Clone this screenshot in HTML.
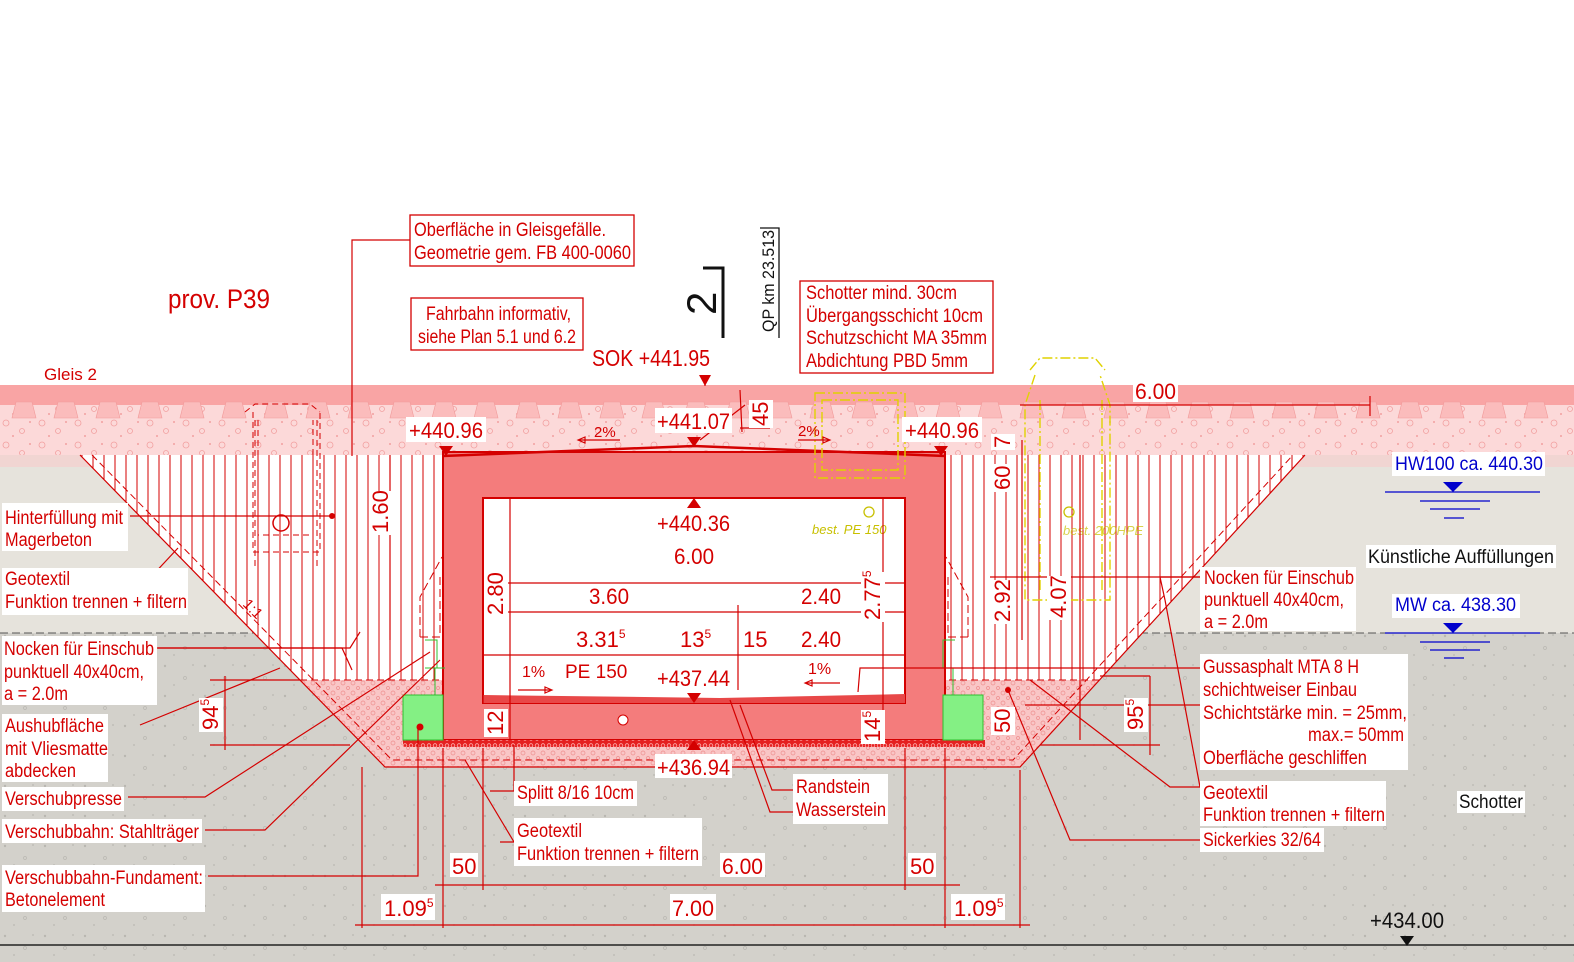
<!DOCTYPE html>
<html><head><meta charset="utf-8"><style>
html,body{margin:0;padding:0;background:#fff}
svg{display:block}
text{font-family:"Liberation Sans Narrow","Liberation Sans",sans-serif}
.r{fill:#d40000}
.lb{fill:#fff}
.bx{fill:#fff;stroke:#d40000;stroke-width:1.3}
.ln{stroke:#d40000;stroke-width:1.2;fill:none}
.tk{stroke:#d40000;stroke-width:1.2}
</style></head><body>
<svg width="1574" height="962" viewBox="0 0 1574 962" xmlns="http://www.w3.org/2000/svg">
<defs>
<pattern id="ball" width="36" height="22" patternUnits="userSpaceOnUse">
<rect width="36" height="22" fill="#fcd9d9"/>
<circle cx="6" cy="5" r="3" fill="none" stroke="#f2a0a0" stroke-width="0.8"/>
<circle cx="22" cy="13" r="2.5" fill="none" stroke="#f2a0a0" stroke-width="0.8"/>
<circle cx="30" cy="4" r="1" fill="#f2a0a0"/>
<circle cx="13" cy="18" r="1" fill="#f2a0a0"/>
</pattern>
<pattern id="pinkgr" width="10" height="10" patternUnits="userSpaceOnUse">
<rect width="10" height="10" fill="#f9c6c6"/>
<circle cx="3" cy="3" r="2" fill="none" stroke="#ee8d8d" stroke-width="0.7"/>
<circle cx="8" cy="8" r="1.5" fill="none" stroke="#ee8d8d" stroke-width="0.7"/>
</pattern>
<pattern id="gnd" width="40" height="30" patternUnits="userSpaceOnUse">
<rect width="40" height="30" fill="#d3d1cb"/>
<circle cx="5" cy="6" r="1.2" fill="#b9b7b1"/>
<circle cx="25" cy="18" r="1.5" fill="none" stroke="#b9b7b1" stroke-width="0.7"/>
<circle cx="33" cy="5" r="0.9" fill="#b9b7b1"/>
<circle cx="14" cy="25" r="0.9" fill="#b9b7b1"/>
</pattern>
<pattern id="hatch" width="11" height="20" patternUnits="userSpaceOnUse">
<rect width="11" height="20" fill="#fff"/>
<line x1="5" y1="0" x2="5" y2="20" stroke="#d40000" stroke-width="1"/>
</pattern>
<pattern id="strip" width="6" height="7" patternUnits="userSpaceOnUse">
<rect width="6" height="7" fill="#e52020"/>
<circle cx="3" cy="3.5" r="1.8" fill="none" stroke="#ffb0b0" stroke-width="0.8"/>
</pattern>
</defs>

<rect x="0" y="455" width="1574" height="178" fill="#e6e3dc"/>
<rect x="0" y="633" width="1574" height="329" fill="url(#gnd)"/>
<line x1="0" y1="633" x2="1574" y2="633" stroke="#555" stroke-width="1" stroke-dasharray="8 4"/>
<line x1="0" y1="945" x2="1574" y2="945" stroke="#222" stroke-width="1.5"/>

<rect x="0" y="385" width="1574" height="20" fill="#f9a4a4"/>
<rect x="0" y="405" width="1574" height="50" fill="url(#ball)"/>
<rect x="0" y="455" width="1574" height="12" fill="#f8cccc" opacity="0.6"/>
<g fill="#fbbcbc" stroke="#f19a9a" stroke-width="0.6">
<path d="M12 418 l4-16 h16 l4 16z M54 418 l4-16 h16 l4 16z M96 418 l4-16 h16 l4 16z M138 418 l4-16 h16 l4 16z M180 418 l4-16 h16 l4 16z M222 418 l4-16 h16 l4 16z M264 418 l4-16 h16 l4 16z M306 418 l4-16 h16 l4 16z M348 418 l4-16 h16 l4 16z M390 418 l4-16 h16 l4 16z M432 418 l4-16 h16 l4 16z M474 418 l4-16 h16 l4 16z M516 418 l4-16 h16 l4 16z M558 418 l4-16 h16 l4 16z M600 418 l4-16 h16 l4 16z M642 418 l4-16 h16 l4 16z M684 418 l4-16 h16 l4 16z M726 418 l4-16 h16 l4 16z M768 418 l4-16 h16 l4 16z M810 418 l4-16 h16 l4 16z M852 418 l4-16 h16 l4 16z M894 418 l4-16 h16 l4 16z M936 418 l4-16 h16 l4 16z M978 418 l4-16 h16 l4 16z M1020 418 l4-16 h16 l4 16z M1062 418 l4-16 h16 l4 16z M1104 418 l4-16 h16 l4 16z M1146 418 l4-16 h16 l4 16z M1188 418 l4-16 h16 l4 16z M1230 418 l4-16 h16 l4 16z M1272 418 l4-16 h16 l4 16z M1314 418 l4-16 h16 l4 16z M1356 418 l4-16 h16 l4 16z M1398 418 l4-16 h16 l4 16z M1440 418 l4-16 h16 l4 16z M1482 418 l4-16 h16 l4 16z M1524 418 l4-16 h16 l4 16z"/>
</g>

<polygon points="80,455 1305,455 1099,680 300,680" fill="url(#hatch)"/>
<polygon points="300,680 1099,680 1020,767 385,767" fill="url(#pinkgr)"/>
<polyline points="80,455 385,767 1020,767 1305,455" class="ln"/>
<polyline points="92,455 392,760 1013,760 1293,455" fill="none" stroke="#d40000" stroke-width="1" stroke-dasharray="7 4"/>
<line x1="300" y1="680" x2="1099" y2="680" stroke="#d40000" stroke-dasharray="7 4"/>

<rect x="443" y="452" width="502" height="288" fill="#f47c7c" stroke="#d40000" stroke-width="2"/>
<rect x="483" y="498" width="422" height="205" fill="#fff" stroke="#d40000" stroke-width="2"/>
<polygon points="483,695 720,698 905,694 905,703 483,703" fill="#e84848"/>
<polyline points="443,456 694,446 945,456" fill="none" stroke="#d40000" stroke-width="2.5"/>
<rect x="403" y="740" width="582" height="7" fill="url(#strip)"/>
<rect x="403" y="695" width="40" height="45" fill="#84f084" stroke="#30c030"/>
<rect x="943" y="695" width="40" height="45" fill="#84f084" stroke="#30c030"/>
<circle cx="420" cy="727" r="3.5" fill="#d40000"/>
<circle cx="623" cy="720" r="5" fill="#fff" stroke="#d40000"/>
<circle cx="1008" cy="690" r="3" fill="#d40000"/>
<circle cx="332" cy="516" r="3" fill="#d40000"/>
<g stroke="#30c030" fill="none"><path d="M425 668h20 M435 668v27 M425 640h12 v28"/><path d="M943 668h20 M953 668v27 M955 640h-12 v28"/></g>
<path d="M420 637h20v-60 M420 637v-40 l22 -40" fill="none" stroke="#d40000" stroke-dasharray="8 4"/>
<path d="M968 637h-20v-60 M968 637v-40 l-22 -40" fill="none" stroke="#d40000" stroke-dasharray="8 4"/>

<path d="M245 412 l10-8 h55 l10 8 M253 412v140 h67 v-140 M255 420v148 M317 420v148 M258 420 v115 h55 v-115" fill="none" stroke="#d40000" stroke-dasharray="6 4"/>
<circle cx="281" cy="523" r="8" fill="none" stroke="#d40000" stroke-width="1.5"/>

<g fill="none" stroke="#e0d200" stroke-dasharray="10 3 2 3" stroke-width="1.4">
<rect x="815" y="393" width="90" height="85"/><rect x="822" y="400" width="76" height="70"/>
<path d="M1030 370 l10-12 h55 l10 12 M1035 375 l-10 30 v195 h85 v-195 l-10 -30 M1040 400 v190 M1102 400 v190"/>
</g>
<circle cx="869" cy="512" r="5" fill="none" stroke="#c8c000" stroke-width="1.3"/>
<circle cx="1069" cy="512" r="5" fill="none" stroke="#c8c000" stroke-width="1.3"/>
<text x="812" y="534" font-size="13" font-style="italic" fill="#c8c000">best. PE 150</text>
<text x="1063" y="535" font-size="13" font-style="italic" fill="#c8c000" opacity="0.7">best. 200HPE</text>

<g class="ln">
<path d="M352 456 V240 H410"/>
<path d="M705 380 V386"/>
<path d="M75 578 H150 L178 548"/>
<path d="M130 516 H332"/>
<path d="M158 648 H350 L360 632"/>
<path d="M140 725 L280 668"/>
<path d="M128 797 H205 L430 652"/>
<path d="M205 830 H265 L440 660"/>
<path d="M208 876 H418 V727"/>
<path d="M155 648 H342 L352 670"/>
<path d="M490 791 H514 V745"/>
<path d="M500 842 H514 L465 760"/>
<path d="M793 790 H772 L740 705"/>
<path d="M793 812 H770 L730 700"/>
<path d="M1200 668 H860 L858 692"/>
<path d="M1200 577 H1160 L1165 600"/>
<path d="M1200 787 L1170 787 L1030 680"/>
<path d="M1200 840 H1070 L1008 690"/>
<path d="M1200 787 L1165 600"/>
<path d="M1025 705 H1200"/>
<path d="M990 577 H1200"/>
<path d="M362 767 V928 M443 748 V928 M483 748 V890 M905 748 V890 M945 748 V928 M1020 770 V928"/>
<path d="M355 925 H1030 M435 885 H960"/>
<path d="M483 498 L483 703 M510 498 V740 M883 498 V740"/>
<path d="M483 583 H905 M483 612 H905 M483 655 H905"/>
<path d="M738 605 V690 M390 455 V640 M1370 396 V416 M1020 405 H1370 M1022 440 V640 M1080 455 V740"/>
<path d="M225 676 V750 M210 680 H300 M210 745 H350 M1150 676 V755 M1100 676 H1150 M1040 745 H1160"/>
<path d="M740 390 L742 432 M700 440 L745 405 M740 428 H770"/>
</g>
<polygon points="699,375 711,375 705,386" fill="#d40000"/>
<polygon points="439,446 453,446 446,456" fill="#d40000"/>
<polygon points="934,446 948,446 941,456" fill="#d40000"/>
<polygon points="687,437 701,437 694,447" fill="#d40000"/>
<polygon points="687,508 701,508 694,498" fill="#d40000"/>
<polygon points="687,693 701,693 694,703" fill="#d40000"/>
<polygon points="687,750 701,750 694,740" fill="#d40000"/>

<text x="168" y="308" font-size="27" class="r" textLength="102" lengthAdjust="spacingAndGlyphs">prov. P39</text>
<text x="44" y="380" font-size="17" class="r">Gleis 2</text>
<rect x="410" y="215" width="224" height="51" class="bx"/>
<text x="414" y="236" font-size="19" class="r" textLength="192" lengthAdjust="spacingAndGlyphs">Oberfläche in Gleisgefälle.</text>
<text x="414" y="259" font-size="19" class="r" textLength="217" lengthAdjust="spacingAndGlyphs">Geometrie gem. FB 400-0060</text>
<rect x="411" y="298" width="172" height="52" class="bx"/>
<text x="426" y="320" font-size="19" class="r" textLength="145" lengthAdjust="spacingAndGlyphs">Fahrbahn informativ,</text>
<text x="418" y="343" font-size="19" class="r" textLength="158" lengthAdjust="spacingAndGlyphs">siehe Plan 5.1 und 6.2</text>
<text x="592" y="366" font-size="23" class="r" textLength="118" lengthAdjust="spacingAndGlyphs">SOK +441.95</text>
<text transform="translate(716,315) rotate(-90)" font-size="42" fill="#111">2</text>
<path d="M703 268 H723 V338" stroke="#111" stroke-width="3" fill="none"/>
<text transform="translate(774,332) rotate(-90)" font-size="17" fill="#111" textLength="102" lengthAdjust="spacingAndGlyphs">QP km 23.513</text>
<path d="M760 228 H779 V338" stroke="#111" stroke-width="1.3" fill="none"/>
<rect x="800" y="281" width="193" height="92" class="bx"/>
<text x="806" y="299" font-size="19" class="r" textLength="151" lengthAdjust="spacingAndGlyphs">Schotter mind. 30cm</text>
<text x="806" y="322" font-size="19" class="r" textLength="177" lengthAdjust="spacingAndGlyphs">Übergangsschicht 10cm</text>
<text x="806" y="344" font-size="19" class="r" textLength="181" lengthAdjust="spacingAndGlyphs">Schutzschicht MA 35mm</text>
<text x="806" y="367" font-size="19" class="r" textLength="162" lengthAdjust="spacingAndGlyphs">Abdichtung PBD 5mm</text>

<g font-size="22">
<rect x="406" y="417" width="80" height="25" class="lb"/><text x="409" y="438" class="r" textLength="74" lengthAdjust="spacingAndGlyphs">+440.96</text>
<rect x="655" y="408" width="77" height="25" class="lb"/><text x="657" y="429" class="r" textLength="73" lengthAdjust="spacingAndGlyphs">+441.07</text>
<rect x="902" y="417" width="80" height="25" class="lb"/><text x="905" y="438" class="r" textLength="74" lengthAdjust="spacingAndGlyphs">+440.96</text>
<text x="657" y="531" class="r" textLength="73" lengthAdjust="spacingAndGlyphs">+440.36</text>
<text x="674" y="564" class="r" textLength="40" lengthAdjust="spacingAndGlyphs">6.00</text>
<text x="589" y="604" class="r" textLength="40" lengthAdjust="spacingAndGlyphs">3.60</text>
<text x="801" y="604" class="r" textLength="40" lengthAdjust="spacingAndGlyphs">2.40</text>
<text x="576" y="647" class="r">3.31<tspan font-size="12" dy="-9">5</tspan></text>
<text x="680" y="647" class="r">13<tspan font-size="12" dy="-9">5</tspan></text>
<text x="743" y="647" class="r">15</text>
<text x="801" y="647" class="r" textLength="40" lengthAdjust="spacingAndGlyphs">2.40</text>
<text x="565" y="678" font-size="19" class="r">PE 150</text>
<text x="657" y="686" class="r" textLength="73" lengthAdjust="spacingAndGlyphs">+437.44</text>
<rect x="655" y="754" width="77" height="24" class="lb"/><text x="657" y="775" class="r" textLength="73" lengthAdjust="spacingAndGlyphs">+436.94</text>
<rect x="1133" y="378" width="45" height="24" class="lb"/><text x="1135" y="399" class="r" textLength="41" lengthAdjust="spacingAndGlyphs">6.00</text>
<rect x="450" y="853" width="28" height="24" class="lb"/><text x="452" y="874" class="r">50</text>
<rect x="720" y="853" width="45" height="24" class="lb"/><text x="722" y="874" class="r" textLength="41" lengthAdjust="spacingAndGlyphs">6.00</text>
<rect x="908" y="853" width="28" height="24" class="lb"/><text x="910" y="874" class="r">50</text>
<rect x="381" y="894" width="54" height="26" class="lb"/><text x="384" y="916" class="r">1.09<tspan font-size="12" dy="-9">5</tspan></text>
<rect x="670" y="894" width="46" height="26" class="lb"/><text x="672" y="916" class="r" textLength="42" lengthAdjust="spacingAndGlyphs">7.00</text>
<rect x="951" y="894" width="54" height="26" class="lb"/><text x="954" y="916" class="r">1.09<tspan font-size="12" dy="-9">5</tspan></text>
<text x="1370" y="928" fill="#111" textLength="74" lengthAdjust="spacingAndGlyphs">+434.00</text>
</g>
<polygon points="1400,936 1414,936 1407,946" fill="#111"/>
<text x="594" y="437" font-size="15" class="r">2%</text>
<text x="798" y="436" font-size="15" class="r">2%</text>
<text x="522" y="677" font-size="16" class="r">1%</text>
<text x="808" y="674" font-size="16" class="r">1%</text>
<path d="M578 440 H620 M578 440 l7-3v6z M798 440 H830 M830 440 l-7-3v6z M518 690 H552 M552 690 l-7-3v6z M805 683 H840 M805 683 l7-3v6z" class="ln" fill="#d40000"/>

<g font-size="22">
<g transform="translate(388,533) rotate(-90)"><rect x="-2" y="-19" width="44" height="24" fill="#fff"/><text class="r">1.60</text></g>
<g transform="translate(503,615) rotate(-90)"><rect x="-2" y="-19" width="44" height="24" fill="#fff"/><text class="r">2.80</text></g>
<g transform="translate(880,620) rotate(-90)"><rect x="-2" y="-19" width="50" height="24" fill="#fff"/><text class="r">2.77<tspan font-size="12" dy="-9">5</tspan></text></g>
<g transform="translate(503,735) rotate(-90)"><rect x="-2" y="-19" width="28" height="24" fill="#fff"/><text class="r">12</text></g>
<g transform="translate(880,742) rotate(-90)"><rect x="-2" y="-19" width="34" height="24" fill="#fff"/><text class="r">14<tspan font-size="12" dy="-9">5</tspan></text></g>
<g transform="translate(218,730) rotate(-90)"><rect x="-2" y="-19" width="34" height="24" fill="#fff"/><text class="r">94<tspan font-size="12" dy="-9">5</tspan></text></g>
<g transform="translate(1143,730) rotate(-90)"><rect x="-2" y="-19" width="34" height="24" fill="#fff"/><text class="r">95<tspan font-size="12" dy="-9">5</tspan></text></g>
<g transform="translate(768,426) rotate(-90)"><rect x="-2" y="-19" width="28" height="24" fill="#fff"/><text class="r">45</text></g>
<g transform="translate(1010,448) rotate(-90)"><rect x="-2" y="-19" width="16" height="24" fill="#fff"/><text class="r">7</text></g>
<g transform="translate(1010,490) rotate(-90)"><rect x="-2" y="-19" width="28" height="24" fill="#fff"/><text class="r">60</text></g>
<g transform="translate(1010,622) rotate(-90)"><rect x="-2" y="-19" width="44" height="24" fill="#fff"/><text class="r">2.92</text></g>
<g transform="translate(1066,618) rotate(-90)"><rect x="-2" y="-19" width="44" height="24" fill="#fff"/><text class="r">4.07</text></g>
<g transform="translate(1010,733) rotate(-90)"><rect x="-2" y="-19" width="28" height="24" fill="#fff"/><text class="r">50</text></g>
<text class="r" font-size="15" transform="translate(242,605) rotate(45)">1:1</text>
</g>

<g font-size="19">
<rect x="2" y="503" width="126" height="48" class="lb"/>
<text x="5" y="524" class="r" textLength="118" lengthAdjust="spacingAndGlyphs">Hinterfüllung mit</text>
<text x="5" y="546" class="r" textLength="87" lengthAdjust="spacingAndGlyphs">Magerbeton</text>
<rect x="2" y="568" width="186" height="47" class="lb"/>
<text x="5" y="585" class="r" textLength="65" lengthAdjust="spacingAndGlyphs">Geotextil</text>
<text x="5" y="608" class="r" textLength="182" lengthAdjust="spacingAndGlyphs">Funktion trennen + filtern</text>
<rect x="2" y="636" width="155" height="69" class="lb"/>
<text x="4" y="655" class="r" textLength="150" lengthAdjust="spacingAndGlyphs">Nocken für Einschub</text>
<text x="4" y="678" class="r" textLength="140" lengthAdjust="spacingAndGlyphs">punktuell 40x40cm,</text>
<text x="4" y="700" class="r" textLength="64" lengthAdjust="spacingAndGlyphs">a = 2.0m</text>
<rect x="2" y="714" width="106" height="68" class="lb"/>
<text x="5" y="732" class="r" textLength="99" lengthAdjust="spacingAndGlyphs">Aushubfläche</text>
<text x="5" y="755" class="r" textLength="103" lengthAdjust="spacingAndGlyphs">mit Vliesmatte</text>
<text x="5" y="777" class="r" textLength="71" lengthAdjust="spacingAndGlyphs">abdecken</text>
<rect x="2" y="787" width="122" height="24" class="lb"/>
<text x="5" y="805" class="r" textLength="117" lengthAdjust="spacingAndGlyphs">Verschubpresse</text>
<rect x="2" y="819" width="200" height="24" class="lb"/>
<text x="5" y="838" class="r" textLength="194" lengthAdjust="spacingAndGlyphs">Verschubbahn: Stahlträger</text>
<rect x="2" y="865" width="203" height="47" class="lb"/>
<text x="5" y="884" class="r" textLength="198" lengthAdjust="spacingAndGlyphs">Verschubbahn-Fundament:</text>
<text x="5" y="906" class="r" textLength="100" lengthAdjust="spacingAndGlyphs">Betonelement</text>

<rect x="514" y="781" width="123" height="25" class="lb"/>
<text x="517" y="799" class="r" textLength="117" lengthAdjust="spacingAndGlyphs">Splitt 8/16 10cm</text>
<rect x="514" y="818" width="188" height="48" class="lb"/>
<text x="517" y="837" class="r" textLength="65" lengthAdjust="spacingAndGlyphs">Geotextil</text>
<text x="517" y="860" class="r" textLength="182" lengthAdjust="spacingAndGlyphs">Funktion trennen + filtern</text>
<rect x="793" y="774" width="95" height="50" class="lb"/>
<text x="796" y="793" class="r" textLength="74" lengthAdjust="spacingAndGlyphs">Randstein</text>
<text x="796" y="816" class="r" textLength="90" lengthAdjust="spacingAndGlyphs">Wasserstein</text>

<rect x="1200" y="567" width="156" height="64" class="lb"/>
<text x="1204" y="584" class="r" textLength="150" lengthAdjust="spacingAndGlyphs">Nocken für Einschub</text>
<text x="1204" y="606" class="r" textLength="140" lengthAdjust="spacingAndGlyphs">punktuell 40x40cm,</text>
<text x="1204" y="628" class="r" textLength="64" lengthAdjust="spacingAndGlyphs">a = 2.0m</text>
<rect x="1200" y="654" width="208" height="116" class="lb"/>
<text x="1203" y="673" class="r" textLength="156" lengthAdjust="spacingAndGlyphs">Gussasphalt MTA 8 H</text>
<text x="1203" y="696" class="r" textLength="154" lengthAdjust="spacingAndGlyphs">schichtweiser Einbau</text>
<text x="1203" y="719" class="r" textLength="204" lengthAdjust="spacingAndGlyphs">Schichtstärke  min. = 25mm,</text>
<text x="1308" y="741" class="r" textLength="96" lengthAdjust="spacingAndGlyphs">max.= 50mm</text>
<text x="1203" y="764" class="r" textLength="164" lengthAdjust="spacingAndGlyphs">Oberfläche geschliffen</text>
<rect x="1200" y="781" width="186" height="45" class="lb"/>
<text x="1203" y="799" class="r" textLength="65" lengthAdjust="spacingAndGlyphs">Geotextil</text>
<text x="1203" y="821" class="r" textLength="182" lengthAdjust="spacingAndGlyphs">Funktion trennen + filtern</text>
<rect x="1200" y="828" width="124" height="24" class="lb"/>
<text x="1203" y="846" class="r" textLength="118" lengthAdjust="spacingAndGlyphs">Sickerkies 32/64</text>
<rect x="1457" y="791" width="68" height="22" class="lb"/>
<text x="1459" y="808" fill="#111" textLength="64" lengthAdjust="spacingAndGlyphs">Schotter</text>
<rect x="1366" y="545" width="190" height="23" class="lb"/>
<text x="1368" y="563" fill="#111" textLength="186" lengthAdjust="spacingAndGlyphs">Künstliche Auffüllungen</text>
<rect x="1392" y="452" width="153" height="24" class="lb"/>
<text x="1395" y="470" fill="#0000cc" textLength="148" lengthAdjust="spacingAndGlyphs">HW100 ca. 440.30</text>
<rect x="1392" y="594" width="128" height="24" class="lb"/>
<text x="1395" y="611" fill="#0000cc" textLength="121" lengthAdjust="spacingAndGlyphs">MW ca. 438.30</text>
</g>
<g stroke="#0000cc" stroke-width="1.2">
<path d="M1385 492 H1540 M1420 501 H1490 M1430 509 H1480 M1444 518 H1464"/>
<path d="M1385 633 H1540 M1420 642 H1490 M1430 650 H1480 M1444 658 H1464"/>
</g>
<polygon points="1443,482 1463,482 1453,492" fill="#0000cc"/>
<polygon points="1443,623 1463,623 1453,633" fill="#0000cc"/>
</svg>
</body></html>
